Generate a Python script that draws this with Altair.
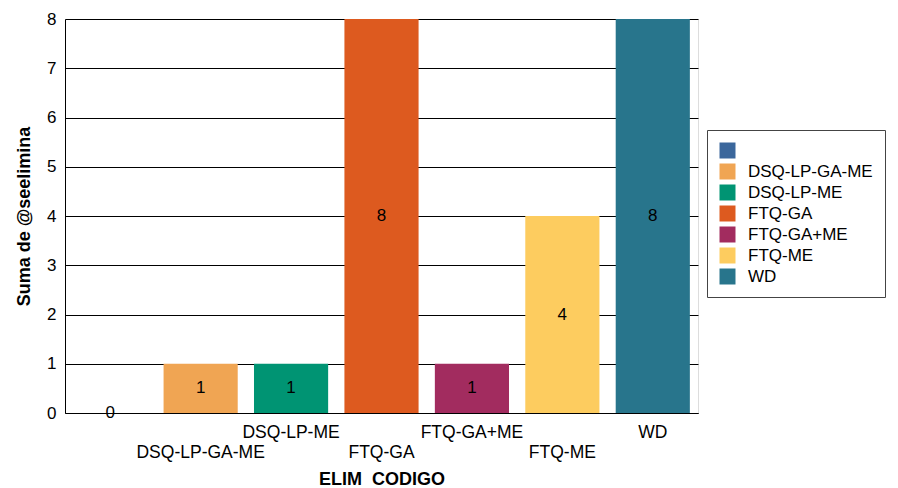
import altair as alt
import pandas as pd

categories = ["", "DSQ-LP-GA-ME", "DSQ-LP-ME", "FTQ-GA", "FTQ-GA+ME", "FTQ-ME", "WD"]
values = [0, 1, 1, 8, 1, 4, 8]
colors = ["#3B679C", "#F0A553", "#009473", "#DD5A1F", "#A22C5F", "#FDCC5F", "#28758C"]
y_ticks = [0, 1, 2, 3, 4, 5, 6, 7, 8]

df = pd.DataFrame({"cat": categories, "val": values})

lower = [c for i, c in enumerate(categories) if i % 2 == 1]
lower_js = "[" + ",".join("'" + c + "'" for c in lower) + "]"
label_expr = f"indexof({lower_js}, datum.value) >= 0 ? ['', datum.label] : datum.label"

FONT = "Liberation Sans"

x = alt.X(
    "cat:N",
    sort=categories,
    scale=alt.Scale(paddingInner=0.18, paddingOuter=0.09),
    axis=alt.Axis(
        title="ELIM\u00a0\u00a0CODIGO",
        labelAngle=0,
        labelExpr=label_expr,
        labelLineHeight=20,
        labelBaseline="top",
        labelPadding=10,
        ticks=False,
        domainColor="black",
        labelColor="black",
        labelFontSize=17.5,
        labelFont=FONT,
        titleFont=FONT,
        titleFontSize=18,
        titleFontWeight="bold",
        titleColor="black",
        titlePadding=10,
    ),
)

y = alt.Y(
    "val:Q",
    scale=alt.Scale(domain=[0, 8]),
    axis=alt.Axis(
        title="Suma de @seelimina",
        values=y_ticks,
        ticks=False,
        grid=True,
        gridColor="black",
        gridOpacity=1,
        domainColor="black",
        labelColor="black",
        labelFontSize=17,
        labelFont=FONT,
        labelPadding=9,
        titleFont=FONT,
        titleFontSize=18,
        titleFontWeight="bold",
        titleColor="black",
        titlePadding=13,
    ),
)

bars = alt.Chart(df).mark_bar().encode(
    x=x,
    y=y,
    color=alt.Color(
        "cat:N",
        sort=categories,
        scale=alt.Scale(domain=categories, range=colors),
        legend=alt.Legend(
            title=None,
            orient="none",
            legendX=642,
            legendY=111,
            symbolType="square",
            symbolSize=256,
            symbolStrokeWidth=0,
            labelFontSize=17,
            labelFont=FONT,
            labelColor="black",
            labelOffset=12,
            rowPadding=3,
            padding=12,
            strokeColor="#444444",
            fillColor="white",
        ),
    ),
)

text = alt.Chart(df).mark_text(fontSize=17, font=FONT, color="black", baseline="middle").encode(
    x=alt.X("cat:N", sort=categories),
    y=alt.Y("mid:Q"),
    text=alt.Text("val:Q"),
).transform_calculate(mid="datum.val / 2")

chart = alt.layer(bars, text).properties(
    width=633,
    height=394,
    autosize=alt.AutoSizeParams(type="none"),
    padding={"left": 57, "top": 11, "right": 192, "bottom": 76},
).configure_view(stroke="black", strokeWidth=1).configure(background="white")

chart.save("out.html", embed_options={"renderer": "svg", "actions": False})
